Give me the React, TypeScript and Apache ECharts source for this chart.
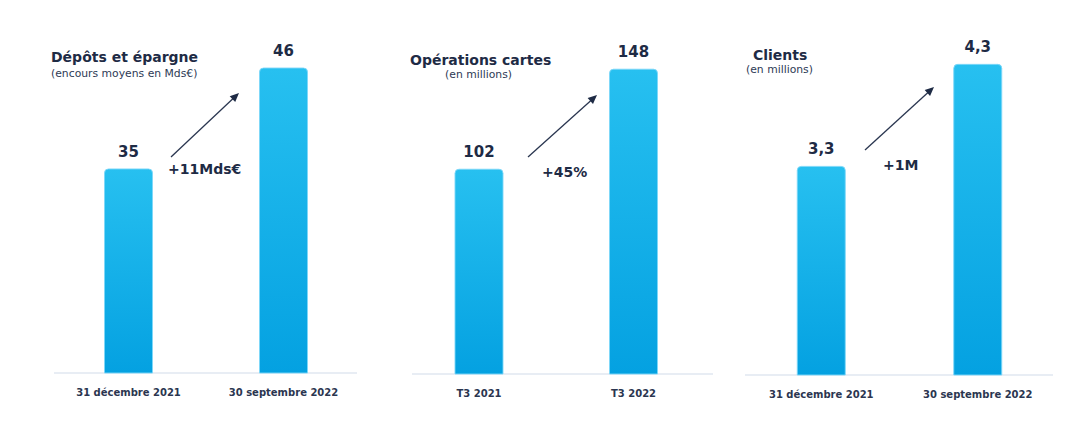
import React, { useEffect, useRef } from "react";
import * as echarts from "echarts";

// ---- data ----
const depotsCategories = ["31 décembre 2021", "30 septembre 2022"];
const depotsValues = [35, 46];
const cartesCategories = ["T3 2021", "T3 2022"];
const cartesValues = [102, 148];
const clientsCategories = ["31 décembre 2021", "30 septembre 2022"];
const clientsValues = [3.3, 4.3];

const titles = ["Dépôts et épargne", "Opérations cartes", "Clients"];
const subtitles = ["(encours moyens en Mds€)", "(en millions)", "(en millions)"];
const deltas = ["+11Mds€", "+45%", "+1M"];

const FONT = "'DejaVu Sans', sans-serif";
const NAVY = "#1e2b45";

function arrow(x1: number, y1: number, x2: number, y2: number) {
  const dx = x2 - x1;
  const dy = y2 - y1;
  const len = Math.sqrt(dx * dx + dy * dy);
  const ux = dx / len;
  const uy = dy / len;
  const hl = 9;
  const hw = 4;
  const bx = x2 - ux * hl;
  const by = y2 - uy * hl;
  return [
    {
      type: "line",
      shape: { x1, y1, x2: bx + ux * 2, y2: by + uy * 2 },
      style: { stroke: "#2a3650", lineWidth: 1.3 },
      silent: true,
    },
    {
      type: "polygon",
      shape: {
        points: [
          [x2, y2],
          [bx - uy * hw, by + ux * hw],
          [bx + uy * hw, by - ux * hw],
        ],
      },
      style: { fill: "#1e2b45" },
      silent: true,
    },
  ];
}

function text(x: number, y: number, t: string, size: number, weight: string, color: string, align = "left") {
  return {
    type: "text",
    x,
    y,
    silent: true,
    style: {
      text: t,
      fontSize: size,
      fontWeight: weight,
      fontFamily: FONT,
      fill: color,
      align,
      verticalAlign: "middle",
    },
  };
}

function axisLine(x1: number, x2: number, y: number) {
  return {
    type: "line",
    z: 0,
    silent: true,
    shape: { x1, y1: y, x2, y2: y },
    style: { stroke: "#e8edf4", lineWidth: 2 },
  };
}

const barGradient = new echarts.graphic.LinearGradient(0, 0, 0, 1, [
  { offset: 0, color: "#27c0f0" },
  { offset: 1, color: "#04a1e1" },
]);

export default function App() {
  const ref = useRef<HTMLDivElement>(null);

  useEffect(() => {
    if (!ref.current) return;
    const chart = echarts.init(ref.current, undefined, { renderer: "svg" });

    const grids = [
      { left: 51, width: 310, top: 40, bottom: 58 },
      { left: 401.75, width: 309, top: 40, bottom: 57 },
      { left: 743, width: 313, top: 40, bottom: 56 },
    ];
    const cats = [depotsCategories, cartesCategories, clientsCategories];
    const vals = [depotsValues, cartesValues, clientsValues];
    const yRanges = [
      [12.7, 49],
      [7.6, 161.2],
      [1.25, 4.534],
    ];

    const option: any = {
      animation: false,
      backgroundColor: "#ffffff",
      grid: grids,
      xAxis: cats.map((c, i) => ({
        type: "category",
        gridIndex: i,
        data: c,
        axisLine: { show: false },
        axisTick: { show: false },
        axisLabel: {
          margin: 14,
          fontSize: 10,
          fontWeight: "bold",
          fontFamily: FONT,
          color: "#2b3650",
        },
      })),
      yAxis: yRanges.map((r, i) => ({
        type: "value",
        gridIndex: i,
        min: r[0],
        max: r[1],
        show: false,
        splitLine: { show: false },
      })),
      series: vals.map((v, i) => ({
        type: "bar",
        xAxisIndex: i,
        yAxisIndex: i,
        data: v,
        barWidth: 49,
        itemStyle: {
          color: barGradient,
          borderRadius: [4, 4, 0, 0],
          borderColor: "rgba(125,215,248,0.9)",
          borderWidth: 1,
        },
        label: {
          show: true,
          position: "top",
          distance: 9,
          fontSize: 15,
          fontWeight: "bold",
          fontFamily: FONT,
          color: NAVY,
          formatter: (p: any) => String(p.value).replace(".", ","),
        },
      })),
      graphic: [
        axisLine(54, 357, 373),
        axisLine(412, 713, 374),
        axisLine(745, 1053, 375),
        text(51, 57, titles[0], 14, "bold", NAVY),
        text(51, 73, subtitles[0], 10.8, "normal", "#2d3a55"),
        text(410, 60, titles[1], 14, "bold", NAVY),
        text(478.5, 74, subtitles[1], 10.8, "normal", "#2d3a55", "center"),
        text(753, 55, titles[2], 14, "bold", NAVY),
        text(746, 69, subtitles[2], 10.8, "normal", "#2d3a55"),
        text(168, 169, deltas[0], 14, "bold", NAVY),
        text(542, 172, deltas[1], 14, "bold", NAVY),
        text(883, 165, deltas[2], 14, "bold", NAVY),
        ...arrow(171, 157, 239, 93),
        ...arrow(528, 157, 597, 95),
        ...arrow(865, 150, 934, 87),
      ],
    };

    chart.setOption(option);
    return () => chart.dispose();
  }, []);

  return (
    <div
      ref={ref}
      style={{ position: "fixed", left: 0, top: 0, width: 1090, height: 431, background: "#fff" }}
    />
  );
}
